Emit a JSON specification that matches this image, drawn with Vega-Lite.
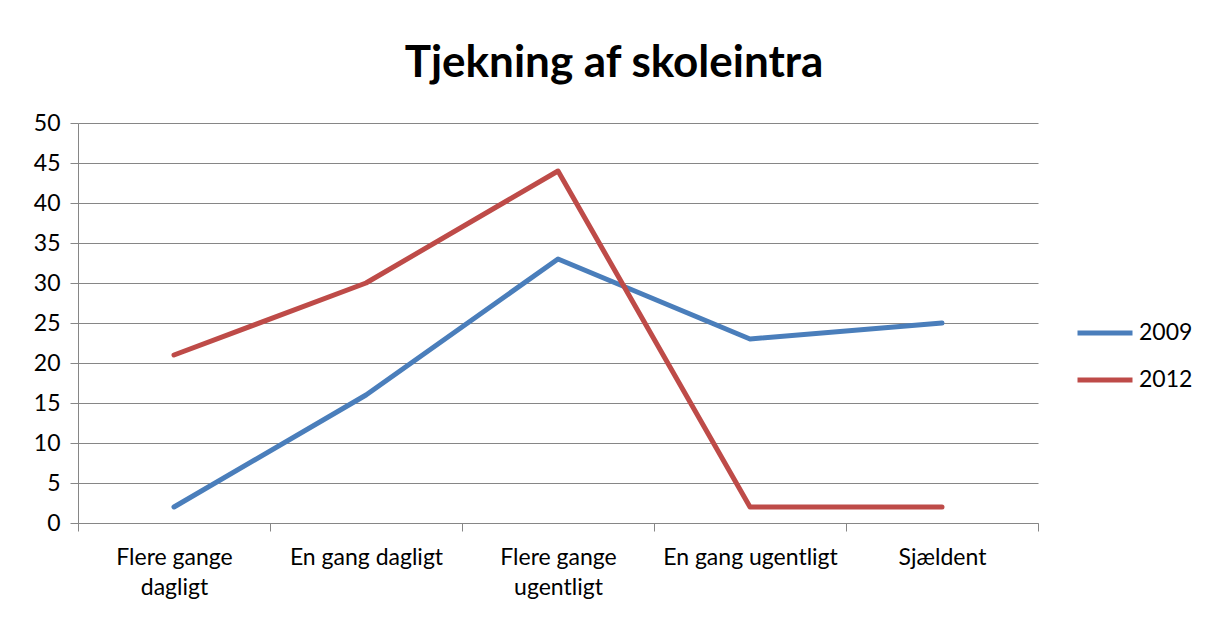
{
  "$schema": "https://vega.github.io/schema/vega-lite/v6.json",
  "width": 960,
  "height": 400,
  "autosize": {"type": "none"},
  "padding": {"left": 78, "top": 123, "right": 174, "bottom": 94},
  "background": "white",
  "title": {
    "text": "Tjekning af skoleintra",
    "font": "Lato",
    "fontSize": 44,
    "fontWeight": "bold",
    "color": "black",
    "anchor": "middle",
    "frame": "group",
    "dx": 56,
    "offset": 26
  },
  "config": {
    "view": {"stroke": null},
    "font": "Lato"
  },
  "data": {
    "values": [
      {"cat": "Flere gange dagligt", "year": "2009", "value": 2},
      {"cat": "En gang dagligt", "year": "2009", "value": 16},
      {"cat": "Flere gange ugentligt", "year": "2009", "value": 33},
      {"cat": "En gang ugentligt", "year": "2009", "value": 23},
      {"cat": "Sjældent", "year": "2009", "value": 25},
      {"cat": "Flere gange dagligt", "year": "2012", "value": 21},
      {"cat": "En gang dagligt", "year": "2012", "value": 30},
      {"cat": "Flere gange ugentligt", "year": "2012", "value": 44},
      {"cat": "En gang ugentligt", "year": "2012", "value": 2},
      {"cat": "Sjældent", "year": "2012", "value": 2}
    ]
  },
  "mark": {"type": "line", "strokeWidth": 5, "strokeCap": "round", "strokeJoin": "round"},
  "encoding": {
    "x": {
      "field": "cat",
      "type": "nominal",
      "sort": null,
      "scale": {"paddingInner": 0, "paddingOuter": 0},
      "axis": {
        "title": null,
        "labelAngle": 0,
        "labelFontSize": 23,
        "labelColor": "black",
        "labelPadding": 15,
        "labelLineHeight": 30,
        "labelExpr": "datum.value == 'Flere gange dagligt' ? ['Flere gange', 'dagligt'] : datum.value == 'Flere gange ugentligt' ? ['Flere gange', 'ugentligt'] : datum.value",
        "tickBand": "extent",
        "tickSize": 8,
        "tickColor": "#868686",
        "domainColor": "#868686",
        "grid": false
      }
    },
    "y": {
      "field": "value",
      "type": "quantitative",
      "scale": {"domain": [0, 50], "nice": false},
      "axis": {
        "title": null,
        "values": [0, 5, 10, 15, 20, 25, 30, 35, 40, 45, 50],
        "labelFontSize": 23,
        "labelColor": "black",
        "labelPadding": 10,
        "tickSize": 8,
        "tickColor": "#868686",
        "domainColor": "#868686",
        "gridColor": "#868686",
        "gridWidth": 1
      }
    },
    "color": {
      "field": "year",
      "type": "nominal",
      "scale": {"domain": ["2009", "2012"], "range": ["#4A7EBB", "#BE4B48"]},
      "legend": {
        "title": null,
        "orient": "none",
        "legendX": 997,
        "legendY": 180,
        "symbolType": "stroke",
        "symbolSize": 3025,
        "symbolStrokeWidth": 5,
        "labelFontSize": 23,
        "labelColor": "black",
        "labelOffset": 4,
        "rowPadding": 5
      }
    }
  }
}
